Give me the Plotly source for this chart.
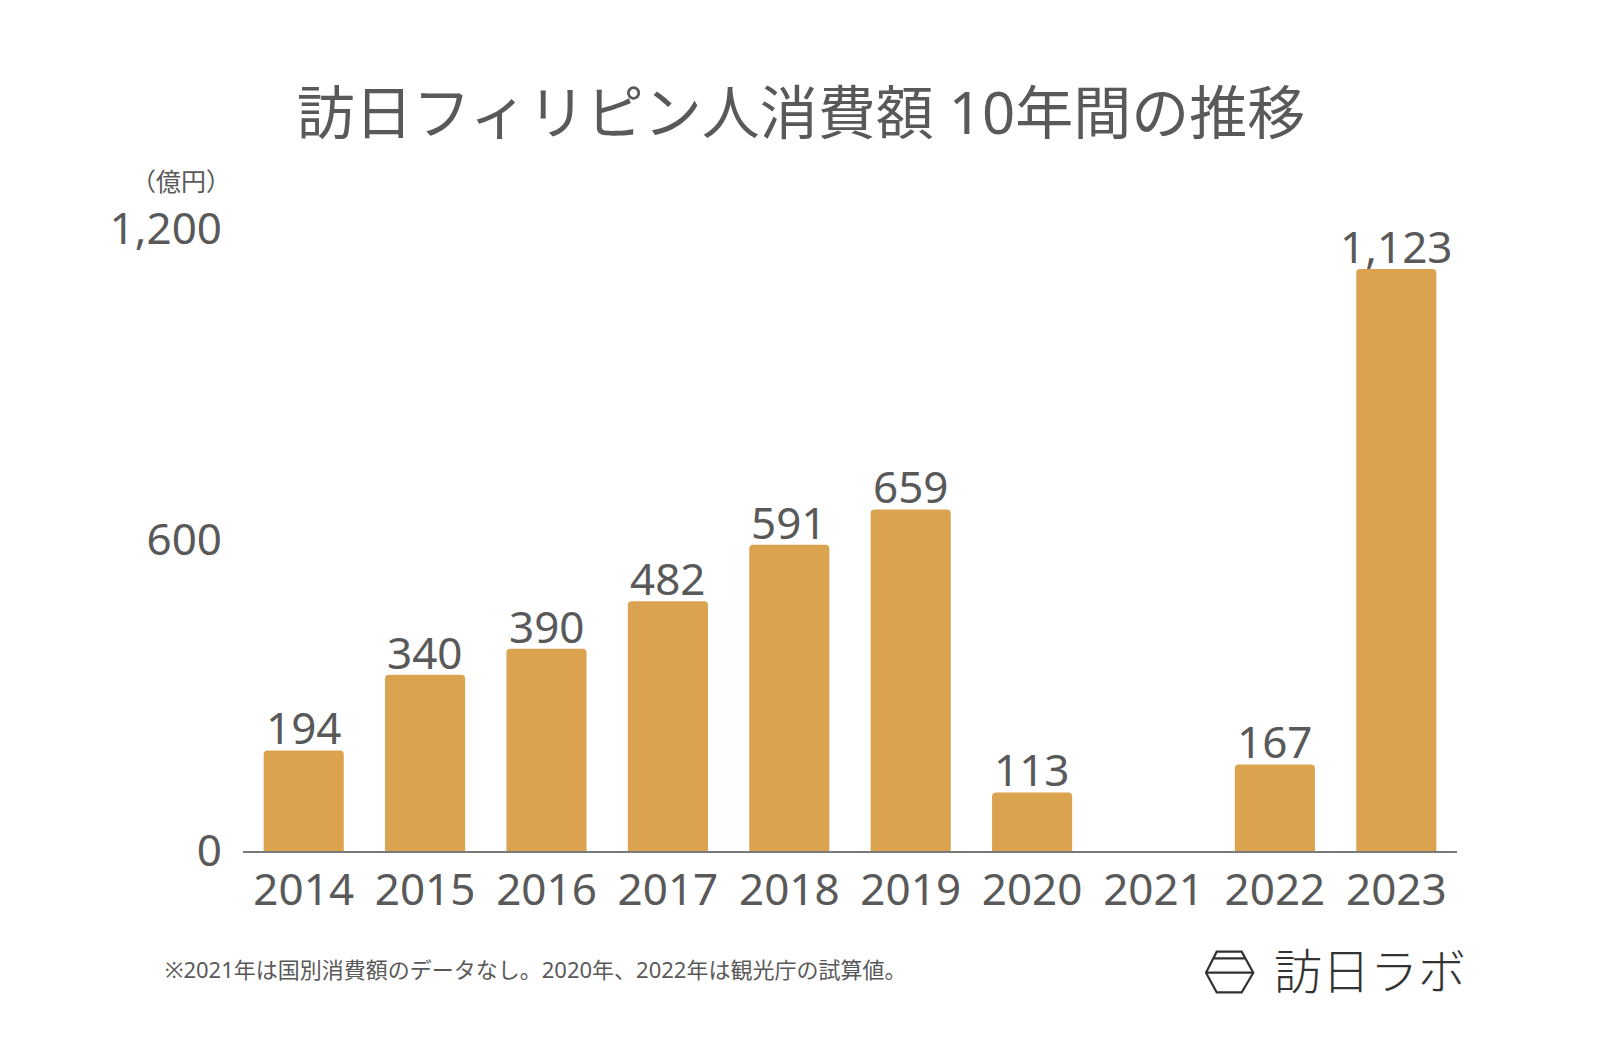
import plotly.graph_objects as go

years = ["2014", "2015", "2016", "2017", "2018", "2019", "2020", "2021", "2022", "2023"]
spend = [194, 340, 390, 482, 591, 659, 113, None, 167, 1123]
ytick_vals = [0, 600, 1200]
ytick_text = ["0", "600", "1,200"]

title_text = "訪日フィリピン人消費額 10年間の推移"
unit_text = "（億円）"
note_text = "※2021年は国別消費額のデータなし。2020年、2022年は観光庁の試算値。"
logo_text = "訪日ラボ"

OFF = 8  # browser body margin
W, H = 1600 - 2 * OFF, 1048 - 2 * OFF
# plot area in page pixels: x 243..1457, y 229..851
L, T = 243 - OFF, 229 - OFF
R = W - (1457 - OFF)
B = H - (851 - OFF)
PW, PH = W - L - R, H - T - B

def px(x):
    return (x - OFF - L) / PW

def py(y):
    return (H - B - (y - OFF)) / PH

FONT = "Noto Sans, Noto Sans CJK JP, sans-serif"
TXT = "#595959"
BAR = "#DBA34F"

fig = go.Figure()
fig.add_trace(go.Bar(
    x=years, y=spend,
    marker=dict(color=BAR, line=dict(width=0), cornerradius=4),
    textposition="none",
    hoverinfo="skip",
))

for i, v in enumerate(spend):
    if v is None:
        continue
    fig.add_annotation(x=i, y=v, xref="x", yref="y", text=f"{v:,}",
                       showarrow=False, yanchor="middle", yshift=23,
                       font=dict(size=44, color=TXT, family=FONT))

fig.update_layout(
    width=W, height=H,
    margin=dict(l=L, r=R, t=T, b=B),
    plot_bgcolor="white", paper_bgcolor="white",
    bargap=0.34,
    showlegend=False,
    font=dict(family=FONT, color=TXT),
    title=dict(text=title_text, x=(801 - OFF) / W, xanchor="center", xref="container",
               y=1 - (114 - OFF) / H, yanchor="middle", yref="container",
               font=dict(size=58, color=TXT, family=FONT)),
)
fig.update_xaxes(
    type="category", range=[-0.5, 9.5],
    showline=True, linecolor="#7a7a7a", linewidth=1.5,
    ticks="", tickfont=dict(size=44, color=TXT, family=FONT),
    ticklabelstandoff=-1, showgrid=False, zeroline=False, fixedrange=True,
)
fig.update_yaxes(
    range=[0, 1200], tickvals=ytick_vals, ticktext=ytick_text,
    showgrid=False, zeroline=False, showline=False, ticks="",
    tickfont=dict(size=44, color=TXT, family=FONT),
    ticklabelstandoff=20, fixedrange=True,
)

fig.add_annotation(text=unit_text, xref="paper", yref="paper",
                   x=px(181), y=py(181), xanchor="center", yanchor="middle",
                   showarrow=False, font=dict(size=25, color=TXT, family=FONT))
fig.add_annotation(text=note_text, xref="paper", yref="paper",
                   x=px(163), y=py(969), xanchor="left", yanchor="middle",
                   showarrow=False, font=dict(size=22, color=TXT, family=FONT))
fig.add_annotation(text=logo_text, xref="paper", yref="paper",
                   x=px(1272), y=py(968), xanchor="left", yanchor="middle",
                   showarrow=False, font=dict(size=48, color="#333333",
                                              family="Noto Sans CJK JP", weight=300))

# logo hexagon
pts = [(1216.7, 951.7), (1241.7, 951.7), (1253.3, 972.7), (1241.7, 992.3),
       (1216.7, 992.3), (1206.0, 972.7)]
path = "M " + " L ".join(f"{px(x):.5f},{py(y):.5f}" for x, y in pts) + " Z"
path += f" M {px(1206.0):.5f},{py(972.7):.5f} L {px(1253.3):.5f},{py(972.7):.5f}"
path += f" M {px(1213.3):.5f},{py(958.3):.5f} L {px(1245.3):.5f},{py(958.3):.5f}"
fig.add_shape(type="path", xref="paper", yref="paper", path=path,
              line=dict(color="#333333", width=2.2), fillcolor="rgba(0,0,0,0)")

fig.write_html("out.html")
